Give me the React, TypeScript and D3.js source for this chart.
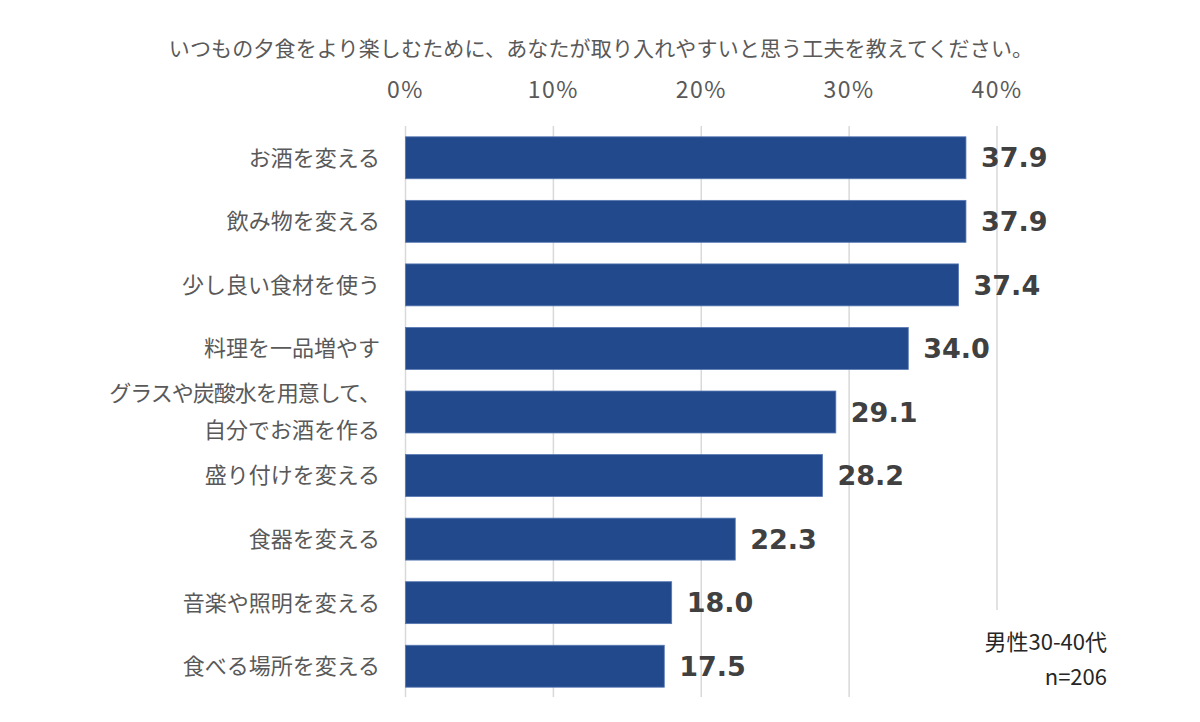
import { useEffect, useRef } from 'react';
import * as d3 from 'd3';

const TITLE = 'いつもの夕食をより楽しむために、あなたが取り入れやすいと思う工夫を教えてください。';

const CATEGORIES = [
  'お酒を変える',
  '飲み物を変える',
  '少し良い食材を使う',
  '料理を一品増やす',
  'グラスや炭酸水を用意して、\n自分でお酒を作る',
  '盛り付けを変える',
  '食器を変える',
  '音楽や照明を変える',
  '食べる場所を変える',
];

const VALUES = [37.9, 37.9, 37.4, 34.0, 29.1, 28.2, 22.3, 18.0, 17.5];

const TICKS = [0, 10, 20, 30, 40];

const NOTE_LINES = ['男性30-40代', 'n=206'];

const WIDTH = 1200;
const HEIGHT = 722;
const JP_FONT = '"Noto Sans CJK JP", "Noto Sans", sans-serif';
const BAR_COLOR = '#21498b';
const GRID_COLOR = '#d9d9d9';
const LABEL_COLOR = '#595959';

export default function App() {
  const svgRef = useRef<SVGSVGElement>(null);

  useEffect(() => {
    const svg = d3.select(svgRef.current!);
    svg.selectAll('*').remove();

    const x = d3.scaleLinear().domain([0, 40]).range([405.5, 997]);
    const y = d3
      .scaleBand<string>()
      .domain(CATEGORIES)
      .range([126, 698])
      .paddingInner(0.34)
      .paddingOuter(0.17);

    svg.append('rect').attr('width', WIDTH).attr('height', HEIGHT).attr('fill', '#ffffff');

    // title
    svg
      .append('text')
      .attr('x', 601)
      .attr('y', 56)
      .attr('text-anchor', 'middle')
      .attr('font-family', JP_FONT)
      .attr('font-size', 21)
      .attr('letter-spacing', 0.15)
      .attr('fill', LABEL_COLOR)
      .text(TITLE);

    // gridlines + top axis labels
    const grid = svg.append('g');
    grid
      .selectAll('line')
      .data(TICKS)
      .join('line')
      .attr('x1', (d) => x(d))
      .attr('x2', (d) => x(d))
      .attr('y1', 126)
      .attr('y2', 697)
      .attr('stroke', GRID_COLOR)
      .attr('stroke-width', 1.5);

    grid
      .selectAll('text')
      .data(TICKS)
      .join('text')
      .attr('x', (d) => x(d))
      .attr('y', 98)
      .attr('text-anchor', 'middle')
      .attr('font-family', JP_FONT)
      .attr('font-size', 23)
      .attr('letter-spacing', 1.5)
      .attr('fill', LABEL_COLOR)
      .text((d) => `${d}%`);

    // bars
    const rows = CATEGORIES.map((c, i) => ({ cat: c, value: VALUES[i] }));
    svg
      .append('g')
      .selectAll('rect')
      .data(rows)
      .join('rect')
      .attr('x', x(0))
      .attr('y', (d) => y(d.cat)!)
      .attr('width', (d) => x(d.value) - x(0))
      .attr('height', y.bandwidth())
      .attr('fill', BAR_COLOR)
      .attr('stroke', '#5878b4')
      .attr('stroke-width', 0.8);

    // value labels
    svg
      .append('g')
      .selectAll('text')
      .data(rows)
      .join('text')
      .attr('x', (d) => x(d.value) + 15)
      .attr('y', (d) => y(d.cat)! + y.bandwidth() / 2)
      .attr('dy', '0.36em')
      .attr('font-family', '"DejaVu Sans", Verdana, sans-serif')
      .attr('font-weight', 'bold')
      .attr('font-size', 27)
      .attr('fill', '#404040')
      .text((d) => d.value.toFixed(1));

    // category labels
    const labels = svg
      .append('g')
      .selectAll('text')
      .data(rows)
      .join('text')
      .attr('text-anchor', 'end')
      .attr('font-family', JP_FONT)
      .attr('font-size', 22)
      .attr('fill', LABEL_COLOR);

    labels.each(function (d) {
      const lines = d.cat.split('\n');
      const cy = y(d.cat)! + y.bandwidth() / 2;
      const lh = 37;
      lines.forEach((line, i) => {
        d3.select(this)
          .append('tspan')
          .attr('x', 380)
          .attr('y', cy + (i - (lines.length - 1) / 2) * lh)
          .attr('dy', '0.36em')
          .attr('letter-spacing', lines.length > 1 && i === 0 ? -1 : 0)
          .text(line);
      });
    });

    // sample note
    const note = svg.append('g');
    note
      .append('rect')
      .attr('x', 965)
      .attr('y', 610)
      .attr('width', 150)
      .attr('height', 90)
      .attr('fill', '#ffffff');
    note
      .selectAll('text')
      .data(NOTE_LINES)
      .join('text')
      .attr('x', 1107)
      .attr('y', (_, i) => 650 + i * 35)
      .attr('text-anchor', 'end')
      .attr('font-family', JP_FONT)
      .attr('font-size', 22)
      .attr('fill', '#262626')
      .text((d) => d);
  }, []);

  return (
    <svg
      ref={svgRef}
      width={WIDTH}
      height={HEIGHT}
      style={{ position: 'absolute', left: 0, top: 0, display: 'block' }}
    />
  );
}
